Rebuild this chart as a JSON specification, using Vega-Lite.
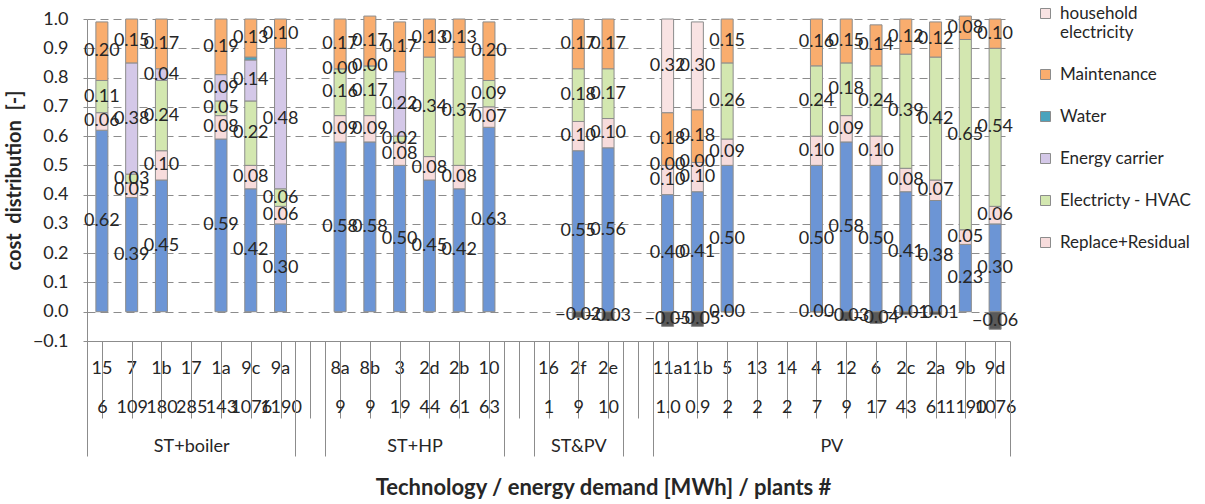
{
  "$schema": "https://vega.github.io/schema/vega-lite/v6.json",
  "width": 923,
  "height": 322,
  "autosize": {"type": "none"},
  "padding": {"left": 87, "top": 19, "right": 195, "bottom": 163},
  "background": "white",
  "config": {
    "view": {"stroke": null},
    "font": "Lato",
    "axis": {"labelFont": "Lato", "titleFont": "Lato", "labelColor": "#262626", "titleColor": "#262626", "domainColor": "#8c8c8c", "tickColor": "#8c8c8c"},
    "axisY": {"labelOverlap": false, "labelFlush": false, "tickCount": 12}
  },
  "datasets": {
    "costs": [
      {"id": "15", "series": "Investment", "value": 0.62},
      {"id": "15", "series": "Replace+Residual", "value": 0.06},
      {"id": "15", "series": "Electricty - HVAC", "value": 0.11},
      {"id": "15", "series": "Maintenance", "value": 0.20},
      {"id": "7", "series": "Investment", "value": 0.39},
      {"id": "7", "series": "Replace+Residual", "value": 0.05},
      {"id": "7", "series": "Electricty - HVAC", "value": 0.03},
      {"id": "7", "series": "Energy carrier", "value": 0.38},
      {"id": "7", "series": "Maintenance", "value": 0.15},
      {"id": "1b", "series": "Investment", "value": 0.45},
      {"id": "1b", "series": "Replace+Residual", "value": 0.10},
      {"id": "1b", "series": "Electricty - HVAC", "value": 0.24},
      {"id": "1b", "series": "Energy carrier", "value": 0.04},
      {"id": "1b", "series": "Maintenance", "value": 0.17},
      {"id": "1a", "series": "Investment", "value": 0.59},
      {"id": "1a", "series": "Replace+Residual", "value": 0.08},
      {"id": "1a", "series": "Electricty - HVAC", "value": 0.05},
      {"id": "1a", "series": "Energy carrier", "value": 0.09},
      {"id": "1a", "series": "Maintenance", "value": 0.19},
      {"id": "9c", "series": "Investment", "value": 0.42},
      {"id": "9c", "series": "Replace+Residual", "value": 0.08},
      {"id": "9c", "series": "Electricty - HVAC", "value": 0.22},
      {"id": "9c", "series": "Energy carrier", "value": 0.14},
      {"id": "9c", "series": "Water", "value": 0.01},
      {"id": "9c", "series": "Maintenance", "value": 0.13},
      {"id": "9a", "series": "Investment", "value": 0.30},
      {"id": "9a", "series": "Replace+Residual", "value": 0.06},
      {"id": "9a", "series": "Electricty - HVAC", "value": 0.06},
      {"id": "9a", "series": "Energy carrier", "value": 0.48},
      {"id": "9a", "series": "Maintenance", "value": 0.10},
      {"id": "8a", "series": "Investment", "value": 0.58},
      {"id": "8a", "series": "Replace+Residual", "value": 0.09},
      {"id": "8a", "series": "Electricty - HVAC", "value": 0.16},
      {"id": "8a", "series": "Energy carrier", "value": 0.00},
      {"id": "8a", "series": "Maintenance", "value": 0.17},
      {"id": "8b", "series": "Investment", "value": 0.58},
      {"id": "8b", "series": "Replace+Residual", "value": 0.09},
      {"id": "8b", "series": "Electricty - HVAC", "value": 0.17},
      {"id": "8b", "series": "Energy carrier", "value": 0.00},
      {"id": "8b", "series": "Maintenance", "value": 0.17},
      {"id": "3", "series": "Investment", "value": 0.50},
      {"id": "3", "series": "Replace+Residual", "value": 0.08},
      {"id": "3", "series": "Electricty - HVAC", "value": 0.02},
      {"id": "3", "series": "Energy carrier", "value": 0.22},
      {"id": "3", "series": "Maintenance", "value": 0.17},
      {"id": "2d", "series": "Investment", "value": 0.45},
      {"id": "2d", "series": "Replace+Residual", "value": 0.08},
      {"id": "2d", "series": "Electricty - HVAC", "value": 0.34},
      {"id": "2d", "series": "Maintenance", "value": 0.13},
      {"id": "2b", "series": "Investment", "value": 0.42},
      {"id": "2b", "series": "Replace+Residual", "value": 0.08},
      {"id": "2b", "series": "Electricty - HVAC", "value": 0.37},
      {"id": "2b", "series": "Maintenance", "value": 0.13},
      {"id": "10", "series": "Investment", "value": 0.63},
      {"id": "10", "series": "Replace+Residual", "value": 0.07},
      {"id": "10", "series": "Electricty - HVAC", "value": 0.09},
      {"id": "10", "series": "Maintenance", "value": 0.20},
      {"id": "2f", "series": "Investment", "value": 0.55},
      {"id": "2f", "series": "Replace+Residual", "value": 0.10},
      {"id": "2f", "series": "Electricty - HVAC", "value": 0.18},
      {"id": "2f", "series": "Maintenance", "value": 0.17},
      {"id": "2f", "series": "Revenue", "value": -0.02},
      {"id": "2e", "series": "Investment", "value": 0.56},
      {"id": "2e", "series": "Replace+Residual", "value": 0.10},
      {"id": "2e", "series": "Electricty - HVAC", "value": 0.17},
      {"id": "2e", "series": "Maintenance", "value": 0.17},
      {"id": "2e", "series": "Revenue", "value": -0.03},
      {"id": "11a", "series": "Investment", "value": 0.40},
      {"id": "11a", "series": "Replace+Residual", "value": 0.10},
      {"id": "11a", "series": "Electricty - HVAC", "value": 0.00},
      {"id": "11a", "series": "Maintenance", "value": 0.18},
      {"id": "11a", "series": "household electricity", "value": 0.32},
      {"id": "11a", "series": "Revenue", "value": -0.05},
      {"id": "11b", "series": "Investment", "value": 0.41},
      {"id": "11b", "series": "Replace+Residual", "value": 0.10},
      {"id": "11b", "series": "Electricty - HVAC", "value": 0.00},
      {"id": "11b", "series": "Maintenance", "value": 0.18},
      {"id": "11b", "series": "household electricity", "value": 0.30},
      {"id": "11b", "series": "Revenue", "value": -0.05},
      {"id": "5", "series": "Investment", "value": 0.50},
      {"id": "5", "series": "Replace+Residual", "value": 0.09},
      {"id": "5", "series": "Electricty - HVAC", "value": 0.26},
      {"id": "5", "series": "Maintenance", "value": 0.15},
      {"id": "5", "series": "Revenue", "value": 0.00},
      {"id": "4", "series": "Investment", "value": 0.50},
      {"id": "4", "series": "Replace+Residual", "value": 0.10},
      {"id": "4", "series": "Electricty - HVAC", "value": 0.24},
      {"id": "4", "series": "Maintenance", "value": 0.16},
      {"id": "4", "series": "Revenue", "value": 0.00},
      {"id": "12", "series": "Investment", "value": 0.58},
      {"id": "12", "series": "Replace+Residual", "value": 0.09},
      {"id": "12", "series": "Electricty - HVAC", "value": 0.18},
      {"id": "12", "series": "Maintenance", "value": 0.15},
      {"id": "12", "series": "Revenue", "value": -0.03},
      {"id": "6", "series": "Investment", "value": 0.50},
      {"id": "6", "series": "Replace+Residual", "value": 0.10},
      {"id": "6", "series": "Electricty - HVAC", "value": 0.24},
      {"id": "6", "series": "Maintenance", "value": 0.14},
      {"id": "6", "series": "Revenue", "value": -0.04},
      {"id": "2c", "series": "Investment", "value": 0.41},
      {"id": "2c", "series": "Replace+Residual", "value": 0.08},
      {"id": "2c", "series": "Electricty - HVAC", "value": 0.39},
      {"id": "2c", "series": "Maintenance", "value": 0.12},
      {"id": "2c", "series": "Revenue", "value": -0.01},
      {"id": "2a", "series": "Investment", "value": 0.38},
      {"id": "2a", "series": "Replace+Residual", "value": 0.07},
      {"id": "2a", "series": "Electricty - HVAC", "value": 0.42},
      {"id": "2a", "series": "Maintenance", "value": 0.12},
      {"id": "2a", "series": "Revenue", "value": -0.01},
      {"id": "9b", "series": "Investment", "value": 0.23},
      {"id": "9b", "series": "Replace+Residual", "value": 0.05},
      {"id": "9b", "series": "Electricty - HVAC", "value": 0.65},
      {"id": "9b", "series": "Maintenance", "value": 0.08},
      {"id": "9d", "series": "Investment", "value": 0.30},
      {"id": "9d", "series": "Replace+Residual", "value": 0.06},
      {"id": "9d", "series": "Electricty - HVAC", "value": 0.54},
      {"id": "9d", "series": "Maintenance", "value": 0.10},
      {"id": "9d", "series": "Revenue", "value": -0.06}
    ]
  },
  "layer": [
    {
      "data": {"name": "costs"},
      "transform": [
        {"calculate": "indexof(['Revenue','Investment','Replace+Residual','Electricty - HVAC','Energy carrier','Water','Maintenance','household electricity'], datum.series)", "as": "ord"},
        {"stack": "value", "groupby": ["id"], "sort": [{"field": "ord"}], "as": ["v0", "v1"]}
      ],
      "mark": {"type": "bar", "width": 12, "stroke": "#8c8c8c", "strokeWidth": 1},
      "encoding": {
        "x": {
          "field": "id", "type": "nominal",
          "scale": {"domain": ["15","7","1b","17","1a","9c","9a"," ","8a","8b","3","2d","2b","10","  ","16","2f","2e","   ","11a","11b","5","13","14","4","12","6","2c","2a","9b","9d"], "paddingInner": 0, "paddingOuter": 0},
          "axis": {"orient": "bottom", "title": null, "ticks": false, "domain": true, "grid": false, "labelAngle": 0, "labelPadding": 27, "labelBaseline": "middle", "labelFontSize": 18, "labelOverlap": false}
        },
        "y": {
          "field": "v0", "type": "quantitative",
          "scale": {"domain": [-0.1, 1.0], "nice": false, "zero": false},
          "axis": {"values": [-0.1, 0, 0.1, 0.2, 0.3, 0.4, 0.5, 0.6, 0.7, 0.8, 0.9, 1.0], "tickCount": 12, "format": ".1f", "grid": true, "gridDash": [8, 5], "gridColor": "#8c8c8c", "tickSize": 4, "labelPadding": 15, "labelFontSize": 18, "labelFlush": false, "labelOverlap": false, "title": "cost\u00a0\u00a0distribution\u00a0\u00a0[-]", "titleFontWeight": "bold", "titleFontSize": 20, "titlePadding": 8}
        },
        "y2": {"field": "v1"},
        "color": {
          "field": "series", "type": "nominal",
          "scale": {
            "domain": ["Investment","Replace+Residual","Electricty - HVAC","Energy carrier","Water","Maintenance","household electricity","Revenue"],
            "range": ["#6c95d5","#f7dcdc","#d3e7b0","#d4c8e8","#4aa3bd","#f9ad6e","#f9e3e3","#595959"]
          },
          "legend": {
            "values": ["household electricity","Maintenance","Water","Energy carrier","Electricty - HVAC","Replace+Residual"],
            "labelExpr": "datum.label == 'household electricity' ? ['household','electricity'] : datum.label",
            "orient": "none", "legendX": 950, "legendY": -14,
            "title": null, "symbolType": "square", "symbolSize": 100,
            "symbolStrokeColor": "#8c8c8c", "symbolStrokeWidth": 1,
            "labelFont": "Lato", "labelFontSize": 17, "labelColor": "#262626",
            "rowPadding": 24, "labelOffset": 6, "padding": 0
          }
        }
      }
    },
    {
      "data": {"name": "costs"},
      "transform": [
        {"calculate": "indexof(['Revenue','Investment','Replace+Residual','Electricty - HVAC','Energy carrier','Water','Maintenance','household electricity'], datum.series)", "as": "ord"},
        {"stack": "value", "groupby": ["id"], "sort": [{"field": "ord"}], "as": ["v0", "v1"]},
        {"calculate": "(datum.v0 + datum.v1) / 2", "as": "mid"},
        {"filter": "datum.series != 'Water'"}
      ],
      "mark": {"type": "text", "font": "Lato", "fontSize": 18, "color": "#262626"},
      "encoding": {
        "x": {
          "field": "id", "type": "nominal",
          "scale": {"domain": ["15","7","1b","17","1a","9c","9a"," ","8a","8b","3","2d","2b","10","  ","16","2f","2e","   ","11a","11b","5","13","14","4","12","6","2c","2a","9b","9d"], "paddingInner": 0, "paddingOuter": 0},
          "axis": {"orient": "bottom", "title": null, "ticks": true, "bandPosition": 0, "tickSize": 77, "domain": false, "grid": false, "labelAngle": 0, "labelPadding": -11, "labelBaseline": "middle", "labelFontSize": 18, "labelOverlap": false,
            "labelExpr": "['6','109','180','285','143','1076','1190','','9','9','19','44','61','63','','1','9','10','','1.0','0.9','2','2','2','7','9','17','43','61','1190','1076'][indexof(['15','7','1b','17','1a','9c','9a',' ','8a','8b','3','2d','2b','10','  ','16','2f','2e','   ','11a','11b','5','13','14','4','12','6','2c','2a','9b','9d'], datum.value)]"}
        },
        "y": {"field": "mid", "type": "quantitative", "axis": {"values": [-0.1, 0, 0.1, 0.2, 0.3, 0.4, 0.5, 0.6, 0.7, 0.8, 0.9, 1.0], "tickCount": 12, "format": ".1f", "grid": true, "gridDash": [8, 5], "gridColor": "#8c8c8c", "tickSize": 4, "labelPadding": 15, "labelFontSize": 18, "labelFlush": false, "labelOverlap": false, "title": "cost\u00a0\u00a0distribution\u00a0\u00a0[-]", "titleFontWeight": "bold", "titleFontSize": 20, "titlePadding": 8}},
        "text": {"field": "value", "type": "quantitative", "format": ".2f"}
      }
    },
    {
      "data": {"values": [{}]},
      "mark": {"type": "rule", "opacity": 0},
      "encoding": {
        "x": {
          "datum": 0, "type": "quantitative",
          "scale": {"domain": [0, 31], "nice": false, "zero": false},
          "axis": {"orient": "bottom", "values": [3.5, 11, 16.5, 25], "labelExpr": "datum.value == 3.5 ? 'ST+boiler' : datum.value == 11 ? 'ST+HP' : datum.value == 16.5 ? 'ST&PV' : 'PV'", "ticks": false, "domain": false, "grid": false, "labelPadding": 105, "labelBaseline": "middle", "labelFontSize": 18, "labelFlush": false, "labelOverlap": false,
            "title": "Technology / energy demand [MWh] / plants #", "titleFontWeight": "bold", "titleFontSize": 22, "titlePadding": 22, "titleX": 516}
        }
      }
    },
    {
      "data": {"values": [{}]},
      "mark": {"type": "rule", "opacity": 0},
      "encoding": {
        "x": {
          "datum": 0, "type": "quantitative",
          "scale": {"domain": [0, 31], "nice": false, "zero": false},
          "axis": {"orient": "bottom", "values": [0, 7, 8, 14, 15, 18, 19, 31], "labels": false, "ticks": true, "tickSize": 115, "domain": false, "grid": false, "title": null}
        }
      }
    }
  ],
  "resolve": {"scale": {"x": "independent"}, "axis": {"x": "independent"}}
}
